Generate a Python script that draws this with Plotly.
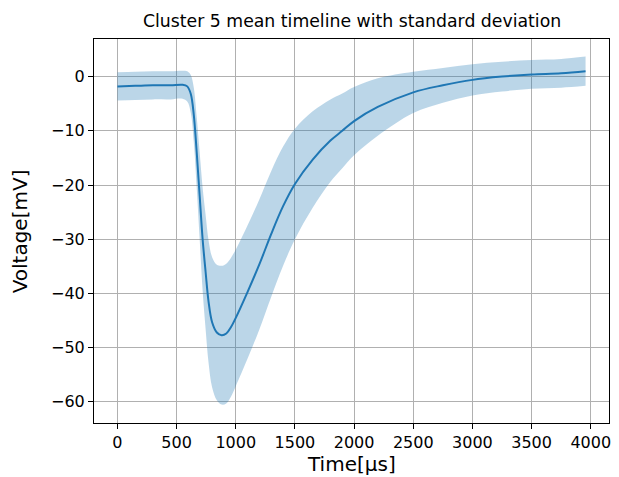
import plotly.graph_objects as go

# Time axis (µs), cluster mean and standard deviation (mV)
time_us = [0, 150, 300, 450, 550, 590, 620, 645, 670, 695, 720, 745, 770, 800, 840,
           880, 920, 960, 1000, 1100, 1200, 1300, 1400, 1500, 1650, 1800, 1900, 2000,
           2200, 2500, 2750, 3000, 3250, 3500, 3750, 3956]
mean_mv = [-1.8, -1.7, -1.6, -1.6, -1.5, -1.8, -3.2, -7.0, -14.0, -22.0, -30.0, -36.0,
           -41.5, -45.3, -47.2, -47.7, -47.4, -46.2, -44.5, -39.7, -34.6, -29.0, -23.9,
           -19.8, -15.3, -11.8, -10.0, -8.2, -5.6, -2.9, -1.6, -0.6, 0.0, 0.4, 0.6, 1.0]
std_mv = [2.6, 2.6, 2.6, 2.6, 2.6, 2.8, 3.5, 5.0, 6.5, 8.0, 9.5, 10.5, 11.3, 12.0, 12.5,
          12.8, 12.9, 12.8, 12.6, 12.3, 12.0, 11.6, 11.0, 10.2, 8.9, 7.6, 6.9, 6.3, 5.3,
          3.8, 3.2, 2.9, 2.75, 2.65, 2.65, 2.7]

x_ticks = [0, 500, 1000, 1500, 2000, 2500, 3000, 3500, 4000]
y_ticks = [-60, -50, -40, -30, -20, -10, 0]

title = "Cluster 5 mean timeline with standard deviation"
x_label = "Time[µs]"
y_label = "Voltage[mV]"

upper = [m + s for m, s in zip(mean_mv, std_mv)]
lower = [m - s for m, s in zip(mean_mv, std_mv)]

C0 = "#1f77b4"
FONT = "DejaVu Sans"
SMOOTH = 1.0

fig = go.Figure()
fig.add_trace(go.Scatter(x=time_us, y=lower, mode="lines",
                         line=dict(width=0, shape="spline", smoothing=SMOOTH),
                         hoverinfo="skip", showlegend=False))
fig.add_trace(go.Scatter(x=time_us, y=upper, mode="lines", fill="tonexty",
                         fillcolor="rgba(31,119,180,0.3)",
                         line=dict(width=0, shape="spline", smoothing=SMOOTH),
                         hoverinfo="skip", showlegend=False))
fig.add_trace(go.Scatter(x=time_us, y=mean_mv, mode="lines",
                         line=dict(color=C0, width=2, shape="spline", smoothing=SMOOTH),
                         showlegend=False))

axis_common = dict(showgrid=True, gridcolor="#b0b0b0", gridwidth=1,
                   showline=True, linecolor="black", linewidth=1, mirror=True,
                   ticks="outside", ticklen=5, tickwidth=1, tickcolor="black",
                   tickfont=dict(family=FONT, size=16, color="black"),
                   zeroline=False)

fig.update_xaxes(range=[-198, 4154], tickvals=x_ticks, **axis_common)
fig.update_yaxes(range=[-63.9, 6.94], tickvals=y_ticks, **axis_common)

PLOT_H = 477 - 39 - 54

fig.update_layout(
    width=619, height=477,
    margin=dict(l=94, r=8, t=39, b=54),
    plot_bgcolor="white", paper_bgcolor="white",
    font=dict(family=FONT, color="black"),
    annotations=[
        dict(text=title, x=0.5, y=1 + (39 - 21) / PLOT_H, xref="paper", yref="paper",
             showarrow=False, xanchor="center", yanchor="middle",
             font=dict(family=FONT, size=17.3, color="black")),
        dict(text=x_label, x=0.5, y=-0.107, xref="paper", yref="paper",
             showarrow=False, xanchor="center", yanchor="middle",
             font=dict(family=FONT, size=20, color="black")),
        dict(text=y_label, x=-0.143, y=0.5, xref="paper", yref="paper",
             showarrow=False, xanchor="center", yanchor="middle", textangle=-90,
             font=dict(family=FONT, size=20, color="black")),
    ],
)

fig.write_html("out.html")
